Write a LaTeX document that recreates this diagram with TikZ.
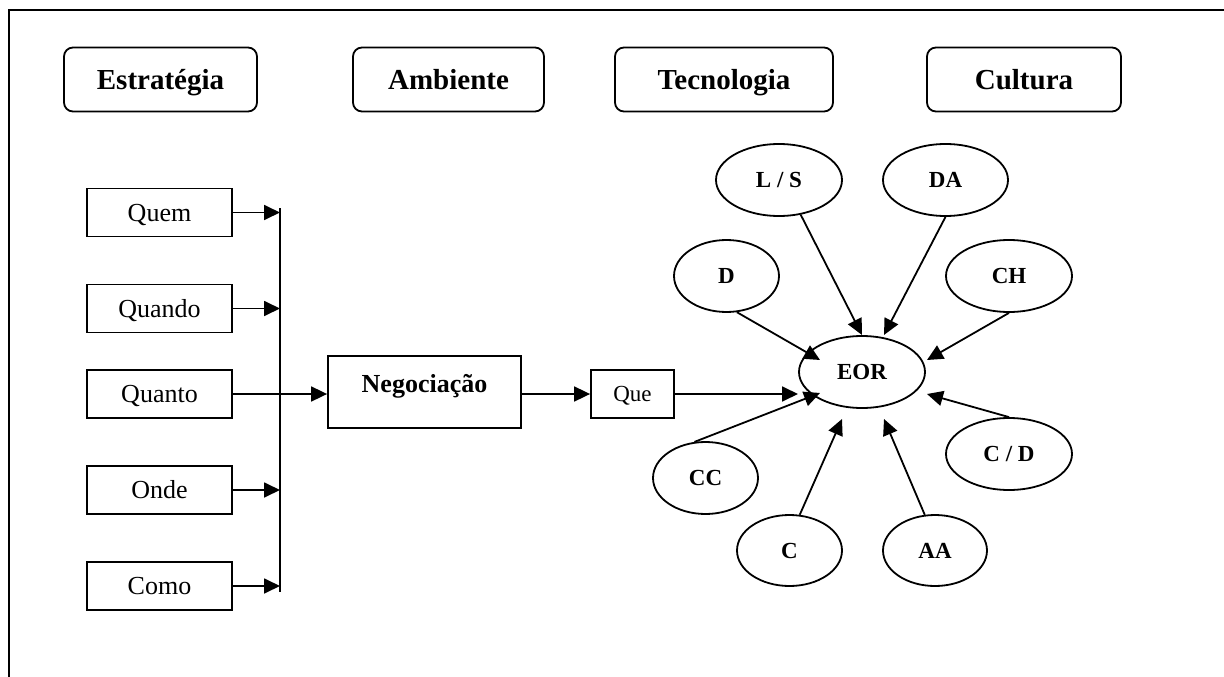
\documentclass[tikz,border=0pt]{standalone}
\usepackage{fontspec}
\setmainfont{Liberation Serif}
\usetikzlibrary{shapes.geometric,arrows.meta}
\tikzset{
  lw/.style={line width=1.8pt},
  topbox/.style={draw,lw,rounded corners=9pt,minimum height=64pt,inner sep=0pt,text height=19pt,text depth=0pt,font=\fontsize{29}{32}\selectfont\bfseries},
  qbox/.style={draw,lw,rectangle,minimum width=145pt,minimum height=48pt,inner sep=0pt,text height=17pt,text depth=0pt,font=\fontsize{26}{30}\selectfont},
  ell/.style={draw,lw,ellipse,minimum height=72pt,inner sep=0pt,text height=15pt,text depth=0pt,font=\fontsize{23}{26}\selectfont\bfseries},
  arr/.style={lw,-{Triangle[length=16pt,width=15pt]}},
}
\begin{document}
\begin{tikzpicture}[x=1pt,y=-1pt]
\useasboundingbox (0,0) rectangle (1224,677);
% frame
\draw[line width=2pt] (9,677) -- (9,10) -- (1224,10);
% top boxes
\node[topbox,minimum width=193pt] (estr) at (160.5,79.5) {Estratégia};
\node[topbox,minimum width=191pt] (amb) at (448.5,79.5) {Ambiente};
\node[topbox,minimum width=218pt] (tec) at (724,79.5) {Tecnologia};
\node[topbox,minimum width=194pt] (cult) at (1024,79.5) {Cultura};
% left boxes
\node[qbox] (quem) at (159.5,212.5) {Quem};
\node[qbox] (quando) at (159.5,308.5) {Quando};
\node[qbox] (quanto) at (159.5,394) {Quanto};
\node[qbox] (onde) at (159.5,490) {Onde};
\node[qbox] (como) at (159.5,586) {Como};
% bar
\coordinate (bartop) at (280,208);
\coordinate (barbot) at (280,592);
\draw[lw] (bartop) -- (barbot);
\draw[arr] (quem.east) -- (quem.east -| bartop);
\draw[arr] (quando.east) -- (quando.east -| bartop);
\draw[arr] (onde.east) -- (onde.east -| bartop);
\draw[arr] (como.east) -- (como.east -| bartop);
% negociacao
\node[draw,lw,rectangle,minimum width=193pt,minimum height=72pt,inner sep=0pt,
  label={[yshift=8pt,inner sep=0pt,text height=17pt,text depth=0pt,font=\fontsize{26}{30}\selectfont\bfseries]center:Negociação}] (neg) at (424.5,392) {};
\draw[arr] (quanto.east) -- (quanto.east -| neg.west);
% que
\node[draw,lw,rectangle,minimum width=83pt,minimum height=48pt,inner sep=0pt,text height=15pt,text depth=0pt,font=\fontsize{23}{26}\selectfont] (que) at (632.5,394) {Que};
\draw[arr] (neg.east |- que.west) -- (que.west);
% ellipses
\node[ell,minimum width=126pt] (eor) at (862,372) {EOR};
\node[ell,minimum width=126pt] (ls) at (779,180) {L / S};
\node[ell,minimum width=125pt] (da) at (945.5,180) {DA};
\node[ell,minimum width=105pt] (d) at (726.5,276) {D};
\node[ell,minimum width=126pt] (ch) at (1009,276) {CH};
\node[ell,minimum width=126pt] (cd) at (1009,454) {C / D};
\node[ell,minimum width=105pt] (cc) at (705.5,478) {CC};
\node[ell,minimum width=105pt,minimum height=71pt] (c) at (789.5,550.5) {C};
\node[ell,minimum width=104pt,minimum height=71pt] (aa) at (935,550.5) {AA};
% arrow tips
\coordinate (tLS) at (862,335);
\coordinate (tDA) at (884,335);
\coordinate (tD) at (820,360);
\coordinate (tCH) at (927,360);
\coordinate (tQue) at (798,394);
\coordinate (tCC) at (820,393);
\coordinate (tC) at (842,419);
\coordinate (tAA) at (884,419);
\coordinate (tCD) at (927,394);
\draw[arr] (ls.-58) -- (tLS);
\draw[arr] (da.south) -- (tDA);
\draw[arr] (d.-74) -- (tD);
\draw[arr] (ch.south) -- (tCH);
\draw[arr] (que.east) -- (tQue);
\draw[arr] (cc.107) -- (tCC);
\draw[arr] (c.74) -- (tC);
\draw[arr] (aa.106) -- (tAA);
\draw[arr] (cd.north) -- (tCD);
\end{tikzpicture}
\end{document}
